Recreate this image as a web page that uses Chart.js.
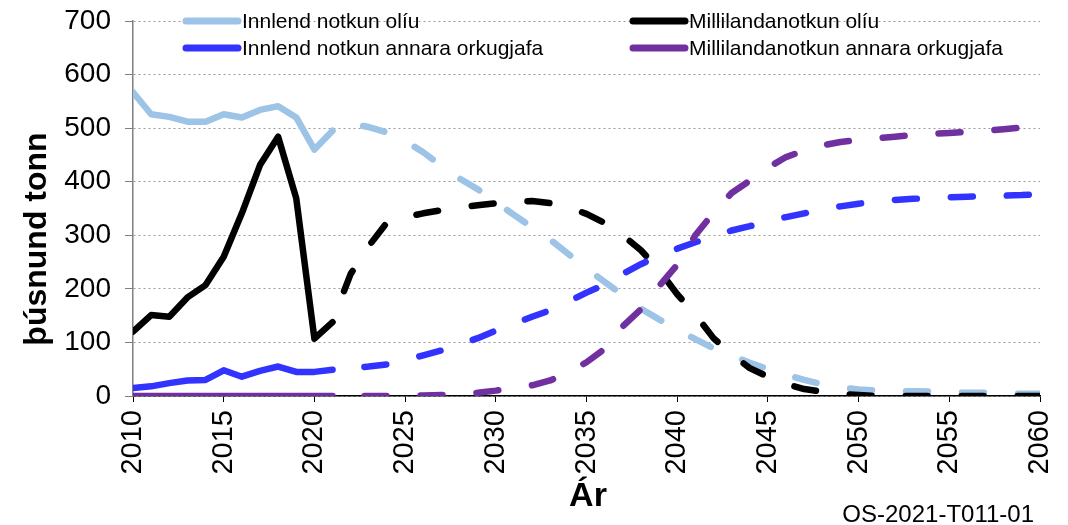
<!DOCTYPE html>
<html>
<head>
<meta charset="utf-8">
<script src="https://cdn.jsdelivr.net/npm/chart.js@4.4.0/dist/chart.umd.min.js"></script>
<style>
html,body{margin:0;padding:0;background:#fff;}
#umgjord{width:1068px;height:525px;position:relative;}
</style>
</head>
<body>
<div id="umgjord"><canvas id="eldsneyti"></canvas></div>
<script>
// ár - saga 2010-2021, spá 2021-2060
var ar_saga = [2010,2011,2012,2013,2014,2015,2016,2017,2018,2019,2020,2021];
var ar_spa = [];
for (var a = 2021; a <= 2060; a++) { ar_spa.push(a); }

// þúsund tonn
var innlend_oliu_saga = [567,526,521,512,512,526,520,534,541,520,460,495];
var milli_oliu_saga = [120,151,148,184,207,260,341,431,484,369,107,138];
var innlend_annad_saga = [15,18,24,29,30,48,36,47,55,45,45,49];
var milli_annad_saga = [0,0,0,0,0,0,0,0,0,0,0,0];

var innlend_oliu_spa = [495,508,502,492,476,455,430,406,386,362,338,315,292,265,238,213,188,163,143,124,
                        106,89,76,62,50,40,30,22,16,12,10,9,9,8,7,6,6,5,4,4];
var milli_oliu_spa = [140,228,280,324,334,341,347,352,356,360,363,364,360,352,340,323,300,272,235,190,
                      152,108,78,52,36,22,13,8,4,2,0,0,0,0,0,0,0,0,0,0];
var innlend_annad_spa = [49,52,55,59,66,76,85,96,108,122,135,148,160,176,193,208,228,246,262,275,
                         287,298,309,317,326,334,341,348,354,359,363,366,368,370,371,372,373,374,375,377];
var milli_annad_spa = [0,0,0,0,1,1,2,3,6,10,15,20,29,44,63,88,130,162,205,245,
                       300,342,379,402,426,446,458,468,474,478,481,484,487,489,491,493,495,498,501,503];

var heiti = ["Innlend notkun olíu","Millilandanotkun olíu","Innlend notkun annara orkugjafa","Millilandanotkun annara orkugjafa"];
var litir = ["#9DC3E6","#000000","#3333FF","#7030A0"];
var rod = [3,2,1,0]; // fjólublá efst

var y_ticks = [0,100,200,300,400,500,600,700];
var x_ticks = [2010,2015,2020,2025,2030,2035,2040,2045,2050,2055,2060];

var letur = '"Liberation Sans", Arial, sans-serif';

function punktar(ar, gildi){
	var p = [];
	for (var i = 0; i < ar.length; i++){ p.push({x: ar[i], y: gildi[i]}); }
	return p;
}

// engin aukabil fyrir útstæða ásamerkingar, teiknisvæðið á að liggja fast
function enginPadding(s){
	s.paddingLeft = 0; s.paddingRight = 0;
	s.paddingTop = 0; s.paddingBottom = 0;
}

var saga = [innlend_oliu_saga, milli_oliu_saga, innlend_annad_saga, milli_annad_saga];
var spa = [innlend_oliu_spa, milli_oliu_spa, innlend_annad_spa, milli_annad_spa];

var gognin = [];
for (var i = 0; i < 4; i++){
	gognin.push({
		label: heiti[i],
		data: punktar(ar_saga, saga[i]),
		borderColor: litir[i],
		borderWidth: 6.5,
		borderCapStyle: 'round',
		borderJoinStyle: 'round',
		pointRadius: 0,
		tension: 0,
		fill: false,
		order: rod[i]
	});
	gognin.push({
		label: heiti[i] + " (spá)",
		data: punktar(ar_spa, spa[i]),
		borderColor: litir[i],
		borderWidth: 6.5,
		borderDash: [22, 34],
		borderDashOffset: 24,
		borderCapStyle: 'round',
		borderJoinStyle: 'round',
		pointRadius: 0,
		tension: 0,
		fill: false,
		order: rod[i]
	});
}

// skýringar, ásaheiti og merking
var textar = {
	id: 'textar',
	afterDraw: function(chart){
		var ctx = chart.ctx;
		ctx.save();

		// skýringar: olía í efri línu, aðrir orkugjafar í neðri
		var dalkar = [183, 630];
		var linur = [21, 48];
		ctx.font = '21px ' + letur;
		ctx.textBaseline = 'middle';
		ctx.textAlign = 'left';
		for (var i = 0; i < 4; i++){
			var x = dalkar[i%2];
			var y = linur[Math.floor(i/2)];
			ctx.strokeStyle = litir[i];
			ctx.lineWidth = 7;
			ctx.lineCap = 'round';
			ctx.beginPath();
			ctx.moveTo(x + 3, y);
			ctx.lineTo(x + 55, y);
			ctx.stroke();
			ctx.fillStyle = '#000';
			ctx.fillText(heiti[i], x + 59, y + 1);
		}

		// y-ás heiti
		ctx.save();
		ctx.translate(37, 239);
		ctx.rotate(-Math.PI/2);
		ctx.font = 'bold 32px ' + letur;
		ctx.textAlign = 'center';
		ctx.textBaseline = 'middle';
		ctx.fillText('þúsnund tonn', 0, 0);
		ctx.restore();

		// x-ás heiti
		ctx.font = 'bold 34px ' + letur;
		ctx.textAlign = 'center';
		ctx.textBaseline = 'middle';
		ctx.fillText('Ár', 588, 497);

		ctx.font = '24px ' + letur;
		ctx.textAlign = 'right';
		ctx.textBaseline = 'alphabetic';
		ctx.fillText('OS-2021-T011-01', 1034, 522);
		ctx.restore();
	}
};

new Chart(document.getElementById("eldsneyti"), {
	type: 'line',
	data: { datasets: gognin },
	plugins: [textar],
	options: {
		responsive: true,
		maintainAspectRatio: false,
		animation: false,
		layout: { padding: { top: 21, right: 28, bottom: 0, left: 0 } },
		plugins: {
			legend: { display: false },
			tooltip: { enabled: false },
			title: { display: false }
		},
		scales: {
			x: {
				type: 'linear',
				min: 2010,
				max: 2060,
				afterFit: function(s){ s.height = 129; enginPadding(s); },
				afterBuildTicks: function(s){ s.ticks = x_ticks.map(function(v){ return {value: v}; }); },
				ticks: {
					autoSkip: false,
					maxRotation: 90,
					minRotation: 90,
					padding: 8,
					color: '#000',
					font: { family: letur, size: 29 },
					callback: function(v){ return String(v); }
				},
				grid: {
					drawOnChartArea: false,
					drawTicks: true,
					tickLength: 6,
					tickColor: '#000',
					tickWidth: 1
				},
				border: { display: true, color: '#000', width: 1.5 }
			},
			y: {
				min: 0,
				max: 700,
				afterFit: function(s){ s.width = 133; enginPadding(s); },
				afterBuildTicks: function(s){ s.ticks = y_ticks.map(function(v){ return {value: v}; }); },
				ticks: {
					padding: 14,
					color: '#000',
					font: { family: letur, size: 28 }
				},
				grid: {
					color: '#9a9a9a',
					lineWidth: 1,
					drawTicks: true,
					tickLength: 8,
					tickColor: '#808080',
					tickBorderDash: [],
					tickWidth: 1
				},
				border: { display: true, color: '#808080', width: 1.5, dash: [2, 3] }
			}
		}
	}
});
</script>
</body>
</html>
